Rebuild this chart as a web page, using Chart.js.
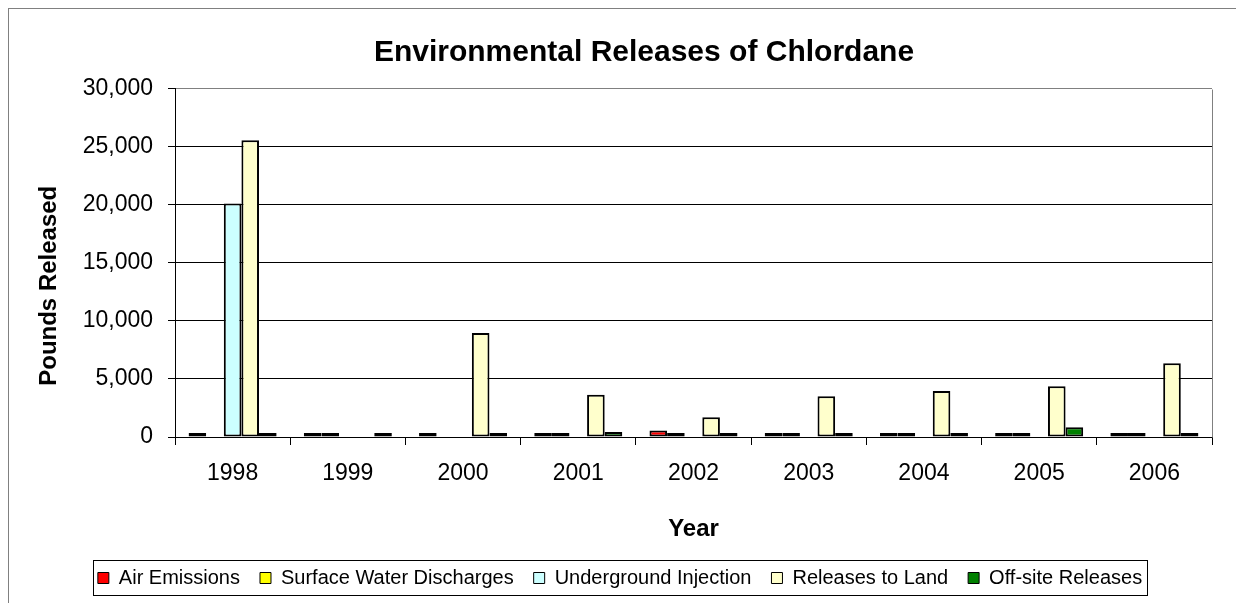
<!DOCTYPE html>
<html>
<head>
<meta charset="utf-8">
<title>Environmental Releases of Chlordane</title>
<script src="https://cdn.jsdelivr.net/npm/chart.js@4.4.1/dist/chart.umd.min.js"></script>
<style>
  html, body { margin: 0; padding: 0; background: #fff; overflow: hidden; }
  #frame {
    position: absolute; left: 8px; top: 8px;
    width: 1400px; height: 800px;
    border: 1px solid #808080;
  }
  #chartCanvas { position: absolute; left: 0; top: 0; }
</style>
</head>
<body>
<div id="frame"></div>
<canvas id="chartCanvas" width="1236" height="603"></canvas>
<script>
// Chart data (pounds released)
var years = ['1998', '1999', '2000', '2001', '2002', '2003', '2004', '2005', '2006'];
var airEmissions = [30, 20, 30, 25, 560, 25, 20, 20, 15];
var surfaceWater = [null, 10, null, 10, 250, 20, 15, 15, 15];
var undergroundInjection = [20100, null, null, null, null, null, null, null, null];
var releasesToLand = [25550, null, 8950, 3640, 1690, 3500, 3960, 4360, 6340];
var offsiteReleases = [30, 40, 40, 420, 40, 40, 40, 830, 200];
var yTicks = [0, 5000, 10000, 15000, 20000, 25000, 30000];

var FONT = '"Liberation Sans", Arial, sans-serif';

(function() {
  'use strict';

  function makeDataset(label, data, color) {
    return {
      label: label,
      data: data,
      backgroundColor: color,
      borderColor: '#000',
      borderWidth: 2,
      borderSkipped: false,
      minBarLength: 4,
      categoryPercentage: 0.764,
      barPercentage: 1.0
    };
  }

  // Moves title / legend so they sit where the reference has them
  var placementPlugin = {
    id: 'placement',
    afterLayout: function(chart) {
      var t = chart.titleBlock;
      if (t) {
        var dxT = 644 - (t.left + t.right) / 2;
        t.left += dxT; t.right += dxT;
      }
      var lg = chart.legend;
      if (lg) {
        var dxL = 620 - (lg.left + lg.right) / 2;
        lg.left += dxL; lg.right += dxL;
      }
    },
    beforeDatasetsDraw: function(chart) {
      // grey plot-area border on the right side
      var a = chart.chartArea;
      var ctx = chart.ctx;
      ctx.save();
      ctx.strokeStyle = '#808080';
      ctx.lineWidth = 1;
      ctx.beginPath();
      ctx.moveTo(Math.round(a.right) + 0.5, Math.round(a.top) + 0.5);
      ctx.lineTo(Math.round(a.right) + 0.5, Math.round(a.bottom) + 0.5);
      ctx.stroke();
      ctx.restore();
    },
    afterDraw: function(chart) {
      var ctx = chart.ctx;
      var a = chart.chartArea;

      // y axis title, rotated
      ctx.save();
      ctx.translate(49, (a.top + a.bottom) / 2 + 23);
      ctx.rotate(-Math.PI / 2);
      ctx.font = 'bold 24px ' + FONT;
      ctx.fillStyle = '#000';
      ctx.textAlign = 'center';
      ctx.textBaseline = 'middle';
      ctx.fillText('Pounds Released', 0, 0);
      ctx.restore();

      // box round the legend
      var boxes = chart.legend && chart.legend.legendHitBoxes;
      if (boxes && boxes.length) {
        var first = boxes[0];
        var last = boxes[boxes.length - 1];
        var x0 = Math.round(first.left - 5) + 0.5;
        var x1 = Math.round(last.left + last.width + 5) + 0.5;
        var y0 = Math.round(first.top - 8) + 0.5;
        var y1 = Math.round(first.top + first.height + 7) + 0.5;
        ctx.save();
        ctx.strokeStyle = '#000';
        ctx.lineWidth = 1;
        ctx.strokeRect(x0, y0, x1 - x0, y1 - y0);
        ctx.restore();
      }
    }
  };

  var canvas = document.getElementById('chartCanvas');
  var ctx = canvas.getContext('2d');

  Chart.defaults.font.family = FONT;
  Chart.defaults.color = '#000';

  new Chart(ctx, {
    type: 'bar',
    data: {
      labels: years,
      datasets: [
        makeDataset('Air Emissions', airEmissions, '#ff0000'),
        makeDataset('Surface Water Discharges', surfaceWater, '#ffff00'),
        makeDataset('Underground Injection', undergroundInjection, '#ccffff'),
        makeDataset('Releases to Land', releasesToLand, '#ffffcc'),
        makeDataset('Off-site Releases', offsiteReleases, '#008000')
      ]
    },
    options: {
      responsive: false,
      animation: false,
      layout: {
        padding: { left: 0, right: 24, top: 0, bottom: 5 }
      },
      plugins: {
        title: {
          display: true,
          text: 'Environmental Releases of Chlordane',
          color: '#000',
          font: { size: 30, weight: 'bold' },
          padding: { top: 35, bottom: 17.5 }
        },
        legend: {
          position: 'bottom',
          labels: {
            boxWidth: 11,
            boxHeight: 11,
            padding: 20,
            color: '#000',
            font: { size: 20 },
            generateLabels: function(chart) {
              var items = Chart.defaults.plugins.legend.labels.generateLabels(chart);
              items.forEach(function(item) {
                item.lineWidth = 1;
                item.strokeStyle = '#000';
              });
              return items;
            }
          }
        },
        tooltip: { enabled: false }
      },
      scales: {
        x: {
          afterFit: function(scale) { scale.height = 111; },
          grid: {
            offset: true,
            drawOnChartArea: false,
            drawTicks: true,
            tickLength: 8,
            color: '#000'
          },
          border: { display: true, color: '#000', width: 1 },
          ticks: {
            padding: 15,
            color: '#000',
            font: { size: 23 }
          },
          title: {
            display: true,
            text: 'Year',
            color: '#000',
            font: { size: 24, weight: 'bold' },
            padding: { top: 0, bottom: 4.6 }
          }
        },
        y: {
          min: 0,
          max: 30000,
          afterFit: function(scale) { scale.width = 175; },
          afterBuildTicks: function(scale) {
            scale.ticks = yTicks.map(function(v) { return { value: v }; });
          },
          grid: {
            color: function(c) {
              return c.tick && c.tick.value === 30000 ? '#808080' : '#000';
            },
            tickColor: '#000',
            tickLength: 7,
            drawTicks: true
          },
          border: { display: true, color: '#000', width: 1 },
          ticks: {
            padding: 15,
            color: '#000',
            font: { size: 23 },
            callback: function(value) {
              return String(value).replace(/\B(?=(\d{3})+(?!\d))/g, ',');
            }
          }
        }
      }
    },
    plugins: [placementPlugin]
  });
})();
</script>
</body>
</html>
